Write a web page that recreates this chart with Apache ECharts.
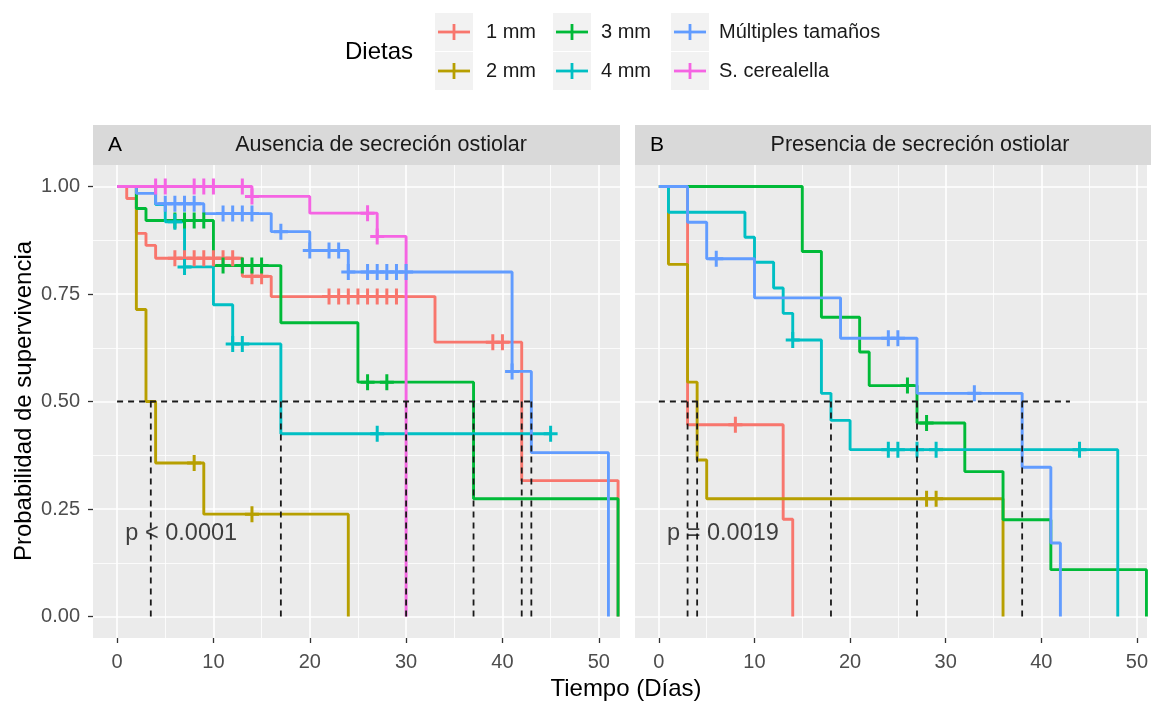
<!DOCTYPE html>
<html>
<head>
<meta charset="utf-8">
<script src="https://cdn.jsdelivr.net/npm/echarts@6/dist/echarts.min.js"></script>
<style>
html,body{margin:0;padding:0;background:#ffffff;}
#c{width:1151px;height:702px;}
</style>
</head>
<body>
<div id="c"></div>
<script>
// Grupos de dieta y colores (paleta por defecto de ggplot para 6 niveles)
const dietas = ['1 mm', '2 mm', '3 mm', '4 mm', 'Múltiples tamaños', 'S. cerealella'];
const colores = ['#F8766D', '#B79F00', '#00BA38', '#00BFC4', '#619CFF', '#F564E3'];

// Paneles
const paneles = ['Ausencia de secreción ostiolar', 'Presencia de secreción ostiolar'];
const etiquetasPanel = ['A', 'B'];
const valoresP = ['p < 0.0001', 'p = 0.0019'];

// Ejes
const ticksX = [0, 10, 20, 30, 40, 50];
const ticksXMenores = [5, 15, 25, 35, 45];
const ticksY = [0, 0.25, 0.5, 0.75, 1];
const ticksYMenores = [0.125, 0.375, 0.625, 0.875];

// ---- Panel A: Ausencia de secreción ostiolar (tiempos en días, supervivencia KM, censuras) ----
const a1mmTiempo = [0, 1, 2, 3, 4, 13, 16, 33, 42, 52];
const a1mmSuperv = [1, 0.972, 0.891, 0.863, 0.833, 0.791, 0.744, 0.638, 0.316, 0];
const a1mmCensura = [6, 7, 8, 9, 10, 11, 12, 14, 15, 22, 23, 24, 25, 26, 27, 28, 29, 39, 40];

const a2mmTiempo = [0, 2, 3, 4, 9, 24];
const a2mmSuperv = [1, 0.714, 0.5, 0.357, 0.238, 0];
const a2mmCensura = [8, 14];

const a3mmTiempo = [0, 2, 3, 10, 17, 25, 37, 52];
const a3mmSuperv = [1, 0.949, 0.921, 0.816, 0.683, 0.545, 0.274, 0];
const a3mmCensura = [6, 7, 8, 9, 11, 13, 14, 15, 26, 28];

const a4mmTiempo = [0, 4, 5, 7, 10, 12, 17, 45];
const a4mmSuperv = [1, 0.958, 0.918, 0.813, 0.725, 0.634, 0.425, 0.425];
const a4mmCensura = [6, 7, 12, 13, 27, 45];

const aMultTiempo = [0, 2, 4, 9, 16, 20, 24, 41, 43, 51];
const aMultSuperv = [1, 0.984, 0.960, 0.937, 0.895, 0.851, 0.801, 0.570, 0.381, 0];
const aMultCensura = [5, 6, 7, 8, 11, 12, 13, 14, 17, 20, 22, 23, 24, 26, 27, 28, 29, 30, 41];

const aCerTiempo = [0, 14, 20, 27, 30];
const aCerSuperv = [1, 0.977, 0.938, 0.884, 0];
const aCerCensura = [4, 5, 8, 9, 10, 13, 14, 26, 27];

const medianasA = [3.5, 17, 30, 37, 42, 43];

// ---- Panel B: Presencia de secreción ostiolar ----
const b1mmTiempo = [0, 3, 13, 14];
const b1mmSuperv = [1, 0.446, 0.226, 0];
const b1mmCensura = [8];

const b2mmTiempo = [0, 1, 3, 4, 5, 36];
const b2mmSuperv = [1, 0.819, 0.545, 0.364, 0.274, 0];
const b2mmCensura = [28, 29];

const b3mmTiempo = [0, 15, 17, 21, 22, 27, 32, 36, 41, 51];
const b3mmSuperv = [1, 0.849, 0.696, 0.615, 0.537, 0.450, 0.337, 0.225, 0.109, 0];
const b3mmCensura = [26, 28];

const b4mmTiempo = [0, 1, 9, 10, 12, 13, 14, 17, 18, 20, 48];
const b4mmSuperv = [1, 0.940, 0.882, 0.824, 0.764, 0.705, 0.643, 0.519, 0.456, 0.388, 0];
const b4mmCensura = [14, 24, 25, 27, 29, 44];

const bMultTiempo = [0, 3, 5, 10, 19, 27, 38, 41, 42];
const bMultSuperv = [1, 0.917, 0.832, 0.741, 0.647, 0.519, 0.347, 0.171, 0];
const bMultCensura = [6, 24, 25, 33];

const medianasB = [3, 4, 18, 27, 38];
const finMedianaHorizontal = 43;

// Curvas por panel (null = grupo sin datos en ese panel)
const curvas = [
  [
    [a1mmTiempo, a1mmSuperv, a1mmCensura],
    [a2mmTiempo, a2mmSuperv, a2mmCensura],
    [a3mmTiempo, a3mmSuperv, a3mmCensura],
    [a4mmTiempo, a4mmSuperv, a4mmCensura],
    [aMultTiempo, aMultSuperv, aMultCensura],
    [aCerTiempo, aCerSuperv, aCerCensura]
  ],
  [
    [b1mmTiempo, b1mmSuperv, b1mmCensura],
    [b2mmTiempo, b2mmSuperv, b2mmCensura],
    [b3mmTiempo, b3mmSuperv, b3mmCensura],
    [b4mmTiempo, b4mmSuperv, b4mmCensura],
    [bMultTiempo, bMultSuperv, bMultCensura],
    null
  ]
];
const medianas = [medianasA, medianasB];

// Valor de la curva escalonada en el tiempo t
function supervEn(tiempos, superv, t) {
  let v = superv[0];
  for (let i = 0; i < tiempos.length; i++) {
    if (tiempos[i] <= t) v = superv[i];
  }
  return v;
}

const FUENTE = '"Liberation Sans", Arial, sans-serif';
const simboloCensura = 'path://M5.5,0H8.5V6.5H14V9.5H8.5V16H5.5V9.5H0V6.5H5.5Z';

// Misma escala (px por día) en ambos paneles; el panel B queda recortado en el borde derecho
const PX_POR_DIA = 9.634;
const X_MIN = -2.5, Y_MIN = -0.05, Y_MAX = 1.05;
const GRID_TOP = 165, GRID_H = 473;
const gridLefts = [93, 635];
const gridWidths = [527, 516];
const xMaxs = gridWidths.map(w => X_MIN + w / PX_POR_DIA);

const grids = gridLefts.map((l, g) => ({
  left: l, top: GRID_TOP, width: gridWidths[g], height: GRID_H,
  show: true, backgroundColor: '#EBEBEB', borderWidth: 0
}));

const xAxes = [];
const yAxes = [];
gridLefts.forEach((l, g) => {
  // eje principal
  xAxes.push({
    type: 'value', gridIndex: g, min: X_MIN, max: xMaxs[g], position: 'bottom',
    axisLine: { show: false, onZero: false },
    axisTick: { show: true, length: 5, customValues: ticksX, lineStyle: { color: '#333333', width: 1.3 } },
    axisLabel: { show: true, customValues: ticksX, margin: 14, color: '#4D4D4D', fontSize: 20, fontFamily: FUENTE },
    splitLine: { show: true, lineStyle: { color: '#FFFFFF', width: 1.6 } }
  });
  // líneas menores
  xAxes.push({
    type: 'value', gridIndex: g, min: X_MIN, max: xMaxs[g], position: 'top',
    axisLine: { show: false, onZero: false },
    axisTick: { show: false, customValues: ticksXMenores },
    axisLabel: { show: false },
    splitLine: { show: true, lineStyle: { color: '#FFFFFF', width: 0.8 } }
  });
  yAxes.push({
    type: 'value', gridIndex: g, min: Y_MIN, max: Y_MAX, position: 'left',
    axisLine: { show: false, onZero: false },
    axisTick: { show: g === 0, length: 5, customValues: ticksY, lineStyle: { color: '#333333', width: 1.3 } },
    axisLabel: { show: g === 0, customValues: ticksY, margin: 13, color: '#4D4D4D', fontSize: 20, fontFamily: FUENTE,
      formatter: v => Number(v).toFixed(2) },
    splitLine: { show: true, lineStyle: { color: '#FFFFFF', width: 1.6 } }
  });
  yAxes.push({
    type: 'value', gridIndex: g, min: Y_MIN, max: Y_MAX, position: 'right',
    axisLine: { show: false, onZero: false },
    axisTick: { show: false, customValues: ticksYMenores },
    axisLabel: { show: false },
    splitLine: { show: true, lineStyle: { color: '#FFFFFF', width: 0.8 } }
  });
});

const series = [];
curvas.forEach((grupo, p) => {
  const xi = p * 2, yi = p * 2;
  grupo.forEach((c, k) => {
    if (!c) return;
    const [tiempos, superv, censura] = c;
    series.push({
      type: 'line', name: dietas[k], xAxisIndex: xi, yAxisIndex: yi,
      step: 'end', showSymbol: false, symbol: 'none', z: 2, silent: true,
      data: tiempos.map((t, i) => [t, superv[i]]),
      lineStyle: { color: colores[k], width: 2.9 }
    });
    series.push({
      type: 'scatter', name: dietas[k], xAxisIndex: xi, yAxisIndex: yi, z: 3, silent: true,
      symbol: simboloCensura, symbolSize: [14, 16],
      data: censura.map(t => [t, supervEn(tiempos, superv, t)]),
      itemStyle: { color: colores[k], opacity: 1 }
    });
  });
  // líneas de mediana
  const dash = { color: '#1A1A1A', width: 1.8, type: [6, 5] };
  series.push({
    type: 'line', xAxisIndex: xi, yAxisIndex: yi, z: 4, silent: true, symbol: 'none',
    data: [[0, 0.5], [finMedianaHorizontal, 0.5]], lineStyle: dash
  });
  medianas[p].forEach(m => {
    series.push({
      type: 'line', xAxisIndex: xi, yAxisIndex: yi, z: 4, silent: true, symbol: 'none',
      data: [[m, 0], [m, 0.5]], lineStyle: dash
    });
  });
  // valor p
  series.push({
    type: 'scatter', xAxisIndex: xi, yAxisIndex: yi, z: 5, silent: true,
    symbolSize: 0, data: [[0.86, 0.192]],
    label: { show: true, position: 'right', distance: 0, formatter: valoresP[p],
      color: '#111111', fontSize: 23.5, fontFamily: FUENTE }
  });
});

// Leyenda, tiras de panel y títulos de ejes
const graphic = [];
gridLefts.forEach((l, p) => {
  graphic.push({ type: 'rect', shape: { x: l, y: 125, width: gridWidths[p], height: 40 }, style: { fill: '#D9D9D9' }, silent: true });
  graphic.push({ type: 'text', x: l + 15, y: 145, style: { text: etiquetasPanel[p], font: '21px ' + FUENTE, fill: '#000000', textVerticalAlign: 'middle', textAlign: 'left' }, silent: true });
  graphic.push({ type: 'text', x: [381, 920][p], y: 145, style: { text: paneles[p], font: '21.5px ' + FUENTE, fill: '#1A1A1A', textVerticalAlign: 'middle', textAlign: 'center' }, silent: true });
});
graphic.push({ type: 'text', x: 24, y: 401, rotation: Math.PI / 2,
  style: { text: 'Probabilidad de supervivencia', font: '24px ' + FUENTE, fill: '#000000', textAlign: 'center', textVerticalAlign: 'middle' }, silent: true });
graphic.push({ type: 'text', x: 626, y: 689,
  style: { text: 'Tiempo (Días)', font: '24px ' + FUENTE, fill: '#000000', textAlign: 'center', textVerticalAlign: 'middle' }, silent: true });
graphic.push({ type: 'text', x: 345, y: 52,
  style: { text: 'Dietas', font: '24px ' + FUENTE, fill: '#000000', textAlign: 'left', textVerticalAlign: 'middle' }, silent: true });

const cajaX = [435, 553, 671];
const textoX = [486, 601, 719];
const filaY = [32, 71];
dietas.forEach((d, k) => {
  const col = Math.floor(k / 2), fila = k % 2;
  const bx = cajaX[col], cy = filaY[fila];
  graphic.push({ type: 'rect', shape: { x: bx, y: cy - 19, width: 38, height: 38 }, style: { fill: '#F2F2F2' }, silent: true });
  graphic.push({ type: 'line', shape: { x1: bx + 3, y1: cy, x2: bx + 35, y2: cy }, style: { stroke: colores[k], lineWidth: 2.8 }, silent: true });
  graphic.push({ type: 'line', shape: { x1: bx + 19, y1: cy - 8, x2: bx + 19, y2: cy + 8 }, style: { stroke: colores[k], lineWidth: 2.8 }, silent: true });
  graphic.push({ type: 'text', x: textoX[col], y: cy, style: { text: d, font: '20px ' + FUENTE, fill: '#1A1A1A', textAlign: 'left', textVerticalAlign: 'middle' }, silent: true });
});

const chart = echarts.init(document.getElementById('c'), null, { renderer: 'canvas' });
chart.setOption({
  animation: false,
  backgroundColor: '#FFFFFF',
  grid: grids,
  xAxis: xAxes,
  yAxis: yAxes,
  series: series,
  graphic: graphic
});
</script>
</body>
</html>
